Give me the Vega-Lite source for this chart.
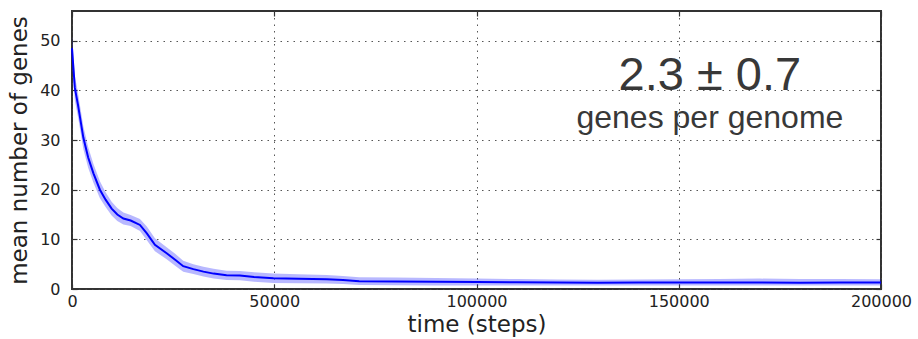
{
  "$schema": "https://vega.github.io/schema/vega-lite/v6.json",
  "width": 809,
  "height": 278,
  "autosize": {"type": "none"},
  "padding": {"left": 72, "top": 11, "right": 37, "bottom": 50},
  "background": "white",
  "config": {
    "view": {"stroke": "#333333", "strokeWidth": 2},
    "axis": {
      "labelFont": "DejaVu Sans",
      "labelFontSize": 16,
      "labelColor": "#222222",
      "labelFlush": false,
      "labelOverlap": false,
      "titleFont": "DejaVu Sans",
      "titleFontSize": 23,
      "titleFontWeight": "normal",
      "titleColor": "#222222",
      "domain": false,
      "gridColor": "#444444",
      "gridDash": [1.5, 5],
      "gridWidth": 1,
      "gridOpacity": 0.9,
      "tickColor": "#333333",
      "tickWidth": 1.2
    }
  },
  "datasets": {
    "curve": [
      {"t": 0, "mean": 48.5, "lo": 46.0, "hi": 51.0},
      {"t": 700, "mean": 40.5, "lo": 38.0, "hi": 43.0},
      {"t": 1500, "mean": 37.0, "lo": 34.6, "hi": 39.4},
      {"t": 2800, "mean": 30.5, "lo": 28.2, "hi": 32.8},
      {"t": 4000, "mean": 26.5, "lo": 24.4, "hi": 28.6},
      {"t": 5300, "mean": 23.3, "lo": 21.4, "hi": 25.2},
      {"t": 6900, "mean": 20.0, "lo": 18.3, "hi": 21.7},
      {"t": 8300, "mean": 18.0, "lo": 16.5, "hi": 19.5},
      {"t": 9800, "mean": 16.2, "lo": 14.8, "hi": 17.6},
      {"t": 11200, "mean": 15.0, "lo": 13.7, "hi": 16.3},
      {"t": 12700, "mean": 14.2, "lo": 13.0, "hi": 15.4},
      {"t": 14500, "mean": 13.8, "lo": 12.7, "hi": 14.9},
      {"t": 16800, "mean": 12.9, "lo": 11.7, "hi": 14.1},
      {"t": 18500, "mean": 11.2, "lo": 9.8, "hi": 12.6},
      {"t": 20500, "mean": 8.9, "lo": 7.6, "hi": 10.2},
      {"t": 23400, "mean": 7.2, "lo": 6.0, "hi": 8.4},
      {"t": 25500, "mean": 5.9, "lo": 4.7, "hi": 7.1},
      {"t": 27500, "mean": 4.6, "lo": 3.5, "hi": 5.7},
      {"t": 30000, "mean": 4.0, "lo": 3.0, "hi": 5.0},
      {"t": 32500, "mean": 3.5, "lo": 2.5, "hi": 4.5},
      {"t": 35000, "mean": 3.1, "lo": 2.1, "hi": 4.1},
      {"t": 38200, "mean": 2.75, "lo": 1.8, "hi": 3.7},
      {"t": 41500, "mean": 2.7, "lo": 1.75, "hi": 3.65},
      {"t": 45000, "mean": 2.4, "lo": 1.45, "hi": 3.35},
      {"t": 49800, "mean": 2.15, "lo": 1.2, "hi": 3.1},
      {"t": 56000, "mean": 2.05, "lo": 1.15, "hi": 2.95},
      {"t": 63000, "mean": 1.95, "lo": 1.1, "hi": 2.8},
      {"t": 67000, "mean": 1.8, "lo": 1.0, "hi": 2.6},
      {"t": 71000, "mean": 1.55, "lo": 0.8, "hi": 2.35},
      {"t": 80000, "mean": 1.5, "lo": 0.75, "hi": 2.3},
      {"t": 90000, "mean": 1.45, "lo": 0.7, "hi": 2.2},
      {"t": 100000, "mean": 1.4, "lo": 0.7, "hi": 2.1},
      {"t": 110000, "mean": 1.35, "lo": 0.7, "hi": 2.0},
      {"t": 120000, "mean": 1.3, "lo": 0.7, "hi": 1.9},
      {"t": 130000, "mean": 1.28, "lo": 0.7, "hi": 1.85},
      {"t": 140000, "mean": 1.3, "lo": 0.7, "hi": 1.9},
      {"t": 150000, "mean": 1.3, "lo": 0.7, "hi": 1.95},
      {"t": 160000, "mean": 1.3, "lo": 0.7, "hi": 2.0},
      {"t": 170000, "mean": 1.3, "lo": 0.7, "hi": 2.1},
      {"t": 180000, "mean": 1.28, "lo": 0.7, "hi": 2.0},
      {"t": 190000, "mean": 1.3, "lo": 0.7, "hi": 2.0},
      {"t": 200000, "mean": 1.3, "lo": 0.7, "hi": 1.95}
    ],
    "notes": [
      {"t": 157700, "v": 40.0, "label": "2.3 ± 0.7", "kind": "big"},
      {"t": 157700, "v": 32.4, "label": "genes per genome", "kind": "small"}
    ]
  },
  "resolve": {"axis": {"x": "independent", "y": "independent"}},
  "layer": [
    {
      "data": {"name": "curve"},
      "mark": {"type": "area", "color": "#0000ff", "opacity": 0.28},
      "encoding": {
        "x": {
          "field": "t", "type": "quantitative",
          "scale": {"domain": [0, 200000], "nice": false, "zero": false},
          "axis": {"orient": "bottom", "title": "time (steps)", "values": [0, 50000, 100000, 150000, 200000], "format": "d", "grid": true, "tickSize": -5, "labelPadding": 9, "titlePadding": 4}
        },
        "y": {
          "field": "lo", "type": "quantitative",
          "scale": {"domain": [0, 56], "nice": false},
          "axis": {"orient": "left", "title": "mean number of genes", "values": [0, 10, 20, 30, 40, 50], "grid": true, "tickSize": -5, "labelPadding": 17, "titlePadding": 8}
        },
        "y2": {"field": "hi"}
      }
    },
    {
      "data": {"name": "curve"},
      "mark": {"type": "line", "color": "#0000ff", "strokeWidth": 2},
      "encoding": {
        "x": {
          "field": "t", "type": "quantitative",
          "axis": {"orient": "top", "title": null, "labels": false, "grid": false, "values": [0, 50000, 100000, 150000, 200000], "tickSize": -5}
        },
        "y": {
          "field": "mean", "type": "quantitative",
          "axis": {"orient": "right", "title": null, "labels": false, "grid": false, "values": [0, 10, 20, 30, 40, 50], "tickSize": -5}
        }
      }
    },
    {
      "data": {"name": "notes"},
      "mark": {"type": "text", "font": "Liberation Sans", "color": "#383838", "align": "center", "baseline": "alphabetic"},
      "encoding": {
        "x": {"field": "t", "type": "quantitative", "axis": null},
        "y": {"field": "v", "type": "quantitative", "axis": null},
        "text": {"field": "label"},
        "size": {"field": "kind", "type": "nominal", "scale": {"domain": ["big", "small"], "range": [47, 32]}, "legend": null}
      }
    }
  ]
}
